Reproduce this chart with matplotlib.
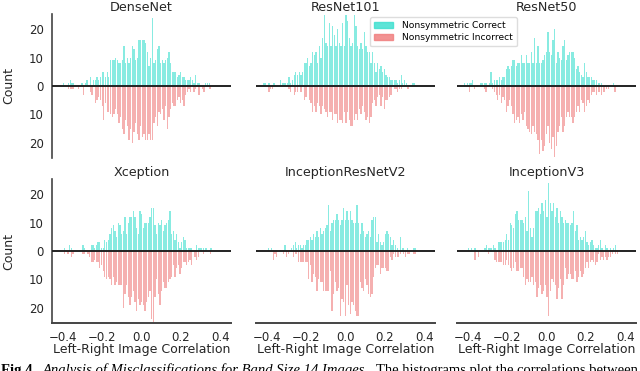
import numpy as np
import matplotlib.pyplot as plt
from matplotlib.patches import Patch
from matplotlib.ticker import FuncFormatter

# histogram counts per bin (bin width bin_width, first bar centre *_start)
bin_width = 0.0085

densenet_start = -0.3955
densenet_correct = [1, 0, 0, 1, 2, 1, 1, 0, 0, 0, 0, 1, 0, 1, 2, 0, 3, 0, 2, 2, 3, 2, 3, 5, 5, 3, 5, 3,
                    9, 9, 9, 10, 9, 8, 8, 9, 14, 8, 10, 8, 10, 14, 13, 9, 10, 16, 16, 16, 16, 15, 12, 7,
                    10, 24, 8, 9, 13, 14, 8, 9, 8, 9, 10, 12, 8, 5, 5, 5, 3, 4, 5, 3, 3, 2, 2, 2, 3, 2,
                    1, 4, 1, 1, 0, 0, 0, 1, 1, 1, 0]
densenet_incorrect = [0, 0, 0, 1, 1, 1, 1, 0, 0, 1, 0, 0, 3, 0, 0, 0, 2, 3, 0, 6, 5, 4, 5, 7, 12, 6, 9,
                      9, 10, 11, 10, 8, 10, 13, 11, 15, 17, 12, 14, 19, 15, 20, 16, 13, 17, 19, 14, 18,
                      17, 19, 19, 17, 19, 19, 13, 11, 14, 9, 10, 8, 12, 7, 15, 11, 8, 6, 7, 7, 5, 4, 6,
                      5, 7, 3, 2, 1, 2, 0, 2, 1, 0, 3, 0, 1, 2, 0, 0, 1, 1]

resnet101_start = -0.414
resnet101_correct = [1, 1, 0, 1, 0, 0, 1, 0, 0, 0, 2, 1, 1, 1, 1, 3, 1, 2, 4, 5, 4, 5, 4, 5, 8, 8, 10,
                     7, 8, 12, 11, 12, 8, 14, 10, 17, 25, 15, 14, 22, 14, 21, 18, 14, 20, 15, 14, 22,
                     14, 25, 23, 17, 14, 15, 25, 21, 14, 13, 15, 13, 19, 14, 12, 12, 8, 12, 8, 5, 8, 6,
                     7, 5, 6, 4, 3, 3, 2, 2, 2, 2, 1, 2, 4, 1, 2, 1, 0, 0, 0, 1, 1]
resnet101_incorrect = [0, 0, 0, 2, 1, 1, 0, 0, 0, 0, 0, 0, 0, 0, 0, 1, 2, 0, 3, 2, 2, 0, 2, 0, 5, 4,
                       0, 5, 6, 9, 7, 9, 6, 7, 10, 7, 8, 9, 11, 9, 9, 12, 10, 10, 13, 12, 12, 13, 9, 13,
                       9, 12, 14, 14, 12, 10, 12, 8, 10, 7, 9, 12, 11, 13, 11, 6, 5, 7, 4, 3, 7, 4, 8,
                       5, 5, 4, 3, 0, 1, 1, 2, 1, 1, 0, 0, 0, 1]

resnet50_start = -0.4174
resnet50_correct = [1, 0, 1, 1, 1, 2, 0, 0, 0, 0, 1, 1, 1, 1, 0, 1, 5, 1, 2, 2, 2, 3, 2, 3, 3, 6, 7, 6,
                    7, 9, 9, 7, 8, 8, 11, 8, 8, 11, 8, 8, 12, 8, 17, 8, 14, 8, 8, 9, 11, 12, 19, 12, 11,
                    16, 20, 8, 12, 10, 9, 14, 16, 9, 11, 12, 12, 12, 10, 6, 7, 5, 4, 3, 8, 5, 3, 3, 3,
                    2, 2, 2, 1, 1, 1, 0, 0, 0, 0, 0, 0, 1]
resnet50_incorrect = [0, 0, 0, 2, 0, 0, 1, 0, 0, 0, 0, 0, 1, 2, 0, 0, 0, 1, 2, 3, 5, 3, 6, 4, 5, 9, 7,
                      5, 7, 10, 13, 12, 11, 13, 10, 12, 9, 14, 15, 16, 17, 14, 16, 17, 19, 24, 19, 23,
                      21, 17, 14, 20, 22, 18, 25, 21, 16, 14, 11, 16, 14, 11, 9, 11, 11, 13, 11, 9, 7,
                      9, 5, 6, 9, 7, 5, 6, 3, 2, 2, 3, 2, 2, 3, 2, 2, 1, 1, 0, 0, 0, 2]

xception_start = -0.3989
xception_correct = [0, 1, 0, 0, 2, 1, 0, 0, 0, 0, 0, 0, 2, 1, 0, 0, 0, 2, 2, 1, 2, 3, 3, 1, 1, 4, 3, 4,
                    6, 8, 9, 7, 5, 10, 9, 6, 7, 12, 6, 10, 12, 12, 14, 12, 8, 6, 14, 13, 8, 10, 10, 10,
                    12, 15, 15, 9, 6, 10, 9, 11, 7, 9, 10, 11, 14, 6, 7, 4, 6, 3, 1, 3, 5, 4, 1, 1, 1, 1,
                    0, 0, 2, 1, 1, 1, 1, 1, 1, 0, 1, 1]
xception_incorrect = [0, 1, 0, 1, 0, 2, 1, 0, 0, 0, 0, 0, 1, 1, 0, 1, 2, 4, 4, 3, 4, 4, 6, 5, 7, 9, 10,
                      9, 10, 12, 9, 12, 11, 12, 12, 12, 20, 15, 12, 16, 19, 16, 14, 18, 21, 17, 19, 18,
                      19, 21, 18, 16, 14, 24, 25, 16, 10, 15, 19, 14, 11, 13, 13, 11, 10, 9, 5, 9, 6, 5,
                      8, 6, 4, 4, 5, 4, 3, 5, 0, 2, 3, 2, 0, 0, 1, 0, 0, 0, 1, 0]

incresv2_start = -0.3919
incresv2_correct = [1, 0, 1, 0, 0, 0, 0, 0, 0, 0, 2, 0, 0, 0, 1, 2, 3, 1, 2, 2, 1, 2, 2, 4, 4, 5, 4, 6,
                    5, 7, 5, 8, 6, 7, 8, 9, 16, 7, 10, 11, 11, 13, 11, 9, 11, 15, 11, 14, 11, 14, 11,
                    10, 10, 16, 10, 6, 10, 7, 5, 6, 7, 5, 11, 12, 12, 3, 6, 3, 2, 3, 6, 7, 6, 5, 2, 4,
                    2, 1, 0, 5, 1, 1, 0, 1, 0, 0, 0, 1, 1]
incresv2_incorrect = [0, 0, 0, 3, 1, 2, 0, 0, 0, 1, 0, 2, 1, 0, 0, 2, 1, 1, 4, 4, 4, 4, 4, 4, 10, 5, 11,
                      8, 9, 14, 10, 11, 11, 14, 14, 14, 14, 7, 21, 15, 11, 14, 13, 23, 17, 18, 23, 12,
                      19, 22, 18, 19, 21, 23, 23, 11, 13, 14, 10, 12, 15, 16, 15, 9, 6, 5, 5, 8, 6, 6, 6,
                      7, 7, 2, 3, 1, 2, 2, 2, 1, 0, 1, 2, 1, 1, 0, 0, 1, 1]

incv3_start = -0.3972
incv3_correct = [1, 0, 1, 0, 1, 0, 0, 0, 0, 0, 1, 2, 1, 1, 1, 2, 1, 0, 3, 3, 3, 3, 4, 6, 4, 10, 9, 8,
                 13, 14, 11, 11, 11, 10, 12, 7, 21, 8, 5, 8, 14, 14, 15, 13, 17, 14, 18, 12, 24, 17, 14,
                 17, 12, 15, 10, 14, 12, 10, 11, 10, 10, 9, 10, 14, 7, 9, 4, 5, 4, 5, 7, 3, 2, 3, 4, 2,
                 1, 1, 2, 4, 1, 0, 2, 1, 0, 1, 0, 1, 2, 0]
incv3_incorrect = [0, 0, 0, 0, 3, 0, 2, 0, 0, 0, 0, 0, 1, 0, 0, 0, 3, 4, 4, 4, 4, 5, 5, 3, 5, 6, 7, 6,
                   4, 7, 7, 6, 6, 9, 12, 10, 11, 11, 9, 12, 11, 16, 13, 12, 15, 14, 12, 16, 23, 14, 10,
                   11, 12, 17, 13, 10, 17, 12, 6, 10, 8, 8, 10, 10, 7, 11, 9, 7, 9, 8, 6, 4, 6, 4, 3, 4,
                   5, 4, 1, 3, 2, 3, 2, 3, 2, 2, 1, 0, 1, 1]

titles = ['DenseNet', 'ResNet101', 'ResNet50', 'Xception', 'InceptionResNetV2', 'InceptionV3']
starts = [densenet_start, resnet101_start, resnet50_start, xception_start, incresv2_start, incv3_start]
correct = [densenet_correct, resnet101_correct, resnet50_correct, xception_correct,
           incresv2_correct, incv3_correct]
incorrect = [densenet_incorrect, resnet101_incorrect, resnet50_incorrect, xception_incorrect,
             incresv2_incorrect, incv3_incorrect]
xticks = [-0.4, -0.2, 0.0, 0.2, 0.4]
yticks = [-20, -10, 0, 10, 20]

c_correct = '#40E0D0'
c_incorrect = '#F08080'

W, H = 640, 371
fig = plt.figure(figsize=(6.4, 3.71), dpi=100)

lefts = [52, 256, 457]
tops = [14, 179]
aw, ah = 179, 144

for i in range(6):
    r, c = divmod(i, 3)
    ax = fig.add_axes([lefts[c] / W, 1 - (tops[r] + ah) / H, aw / W, ah / H])
    x = starts[i] + bin_width * np.arange(len(correct[i]))
    ax.bar(x, correct[i], width=bin_width * 0.78, color=c_correct, alpha=0.62, linewidth=0)
    x = starts[i] + bin_width * np.arange(len(incorrect[i]))
    ax.bar(x, -np.array(incorrect[i]), width=bin_width * 0.78, color=c_incorrect, alpha=0.62,
           linewidth=0)
    ax.axhline(0, color='#222222', lw=1.4, zorder=3)
    ax.set_xlim(-0.455, 0.455)
    ax.set_ylim(-25.3, 25.3)
    ax.set_title(titles[i], fontsize=9.2, pad=2, color='#262626')
    for s in ['top', 'right']:
        ax.spines[s].set_visible(False)
    ax.spines['left'].set_color('#444444')
    ax.spines['left'].set_linewidth(1.2)
    ax.spines['bottom'].set_color('#444444')
    ax.spines['bottom'].set_linewidth(1.4)
    ax.tick_params(length=0, pad=6, labelsize=8.5, labelcolor='#262626')
    ax.set_xticks(xticks)
    ax.set_yticks(yticks)
    ax.yaxis.set_major_formatter(FuncFormatter(lambda v, p: '%d' % abs(v)))
    if c == 0:
        ax.set_ylabel('Count', fontsize=9, color='#262626')
        ax.yaxis.set_label_coords(-0.205, 0.5)
    else:
        ax.spines['left'].set_visible(False)
        ax.set_yticklabels([])
    if r == 0:
        ax.spines['bottom'].set_visible(False)
        ax.set_xticklabels([])
    else:
        ax.set_xlabel('Left-Right Image Correlation', fontsize=9, color='#262626')
        ax.xaxis.set_label_coords(0.5, -0.14)

handles = [Patch(color=c_correct, alpha=0.85, label='Nonsymmetric Correct'),
           Patch(color=c_incorrect, alpha=0.85, label='Nonsymmetric Incorrect')]
fig.legend(handles=handles, loc='upper left', bbox_to_anchor=(370 / W, 1 - 17 / H),
           fontsize=6.6, frameon=True, edgecolor='#dddddd', framealpha=1,
           borderpad=0.45, labelspacing=0.35, handlelength=2.1, handletextpad=0.9,
           borderaxespad=0)

# caption, cut off at the bottom as in the page
fig.canvas.draw()
rend = fig.canvas.get_renderer()
pieces = [('Fig 4.', 'bold', 'normal'),
          ('Analysis of Misclassifications for Band Size 14 Images.', 'normal', 'italic'),
          ('The histograms plot the correlations between', 'normal', 'normal')]
fs = 10.5
xpos = 1
for txt, wt, st in pieces:
    t = fig.text(xpos / W, -3 / H, txt, family='Liberation Serif', fontsize=fs,
                 fontweight=wt, fontstyle=st, va='baseline', ha='left')
    bb = t.get_window_extent(rend)
    xpos = bb.x1 + 7

plt.savefig('out.png', dpi=100)
plt.close()
